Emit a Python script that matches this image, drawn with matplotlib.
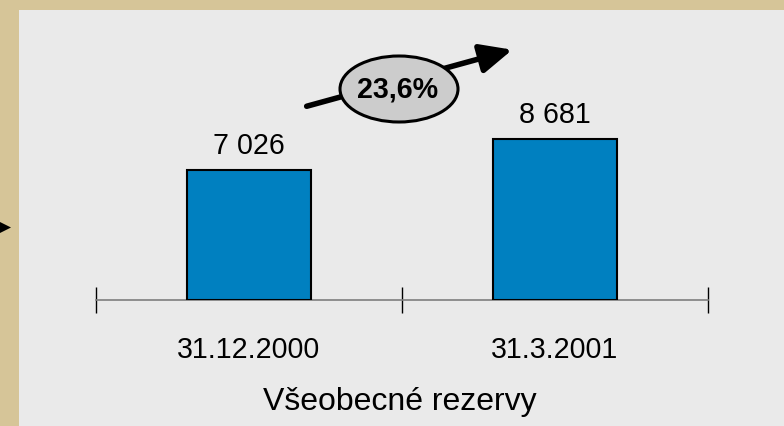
import matplotlib
matplotlib.use("Agg")
import matplotlib.pyplot as plt
from matplotlib.patches import Rectangle, Ellipse, FancyArrowPatch, Polygon

plt.rcParams['font.family'] = ['Liberation Sans', 'DejaVu Sans']

dates = ["31.12.2000", "31.3.2001"]
values = [7026, 8681]
title = "Všeobecné rezervy"

W, H = 784, 426
tan = "#D6C598"
panel = "#EAEAEA"
blue = "#0080C0"
fs = 20.6

def fx(px):
    return px / W

def fy(py):
    return 1 - py / H

fig = plt.figure(figsize=(W / 100, H / 100), dpi=100, facecolor=tan)

# light panel
fig.patches.append(Rectangle((fx(19), 0), 1 - fx(19), fy(10), transform=fig.transFigure,
                             facecolor=panel, edgecolor="none", zorder=-2))
# small arrow head coming from the left edge
fig.patches.append(Polygon([(fx(0), fy(222)), (fx(0), fy(233)), (fx(11), fy(227.5))],
                           closed=True, transform=fig.transFigure, facecolor="black",
                           edgecolor="none", zorder=-1))

ax = fig.add_axes([fx(96), fy(300), fx(708) - fx(96), fy(10) - fy(300)])
ax.set_facecolor("none")
ax.set_xlim(0, 2)
ax.set_ylim(0, 7026 * 290 / 130)

xs = [0.5, 1.5]
ax.bar(xs, values, width=0.405, color=blue, edgecolor="black", linewidth=1.5, zorder=3)

for s in ["top", "left", "right"]:
    ax.spines[s].set_visible(False)
ax.spines["bottom"].set_color("#7f7f7f")
ax.spines["bottom"].set_linewidth(1.2)
ax.set_yticks([])
ax.set_xticks([0, 1, 2])
ax.set_xticklabels([])
ax.tick_params(axis="x", direction="inout", length=19, width=1, color="black")

# offsets in points (1 px = 0.72 pt at 100 dpi)
for x, v, d in zip(xs, values, dates):
    ax.annotate(f"{v:,}".replace(",", " "), (x, v), xytext=(0, 16 * 0.72), textcoords="offset points",
                ha="center", va="baseline", fontsize=fs)
    ax.annotate(d, (x, 0), xytext=(0, -58 * 0.72), textcoords="offset points",
                ha="center", va="baseline", fontsize=fs, annotation_clip=False)
ax.annotate(title, (1, 0), xytext=(-2 * 0.72, -110 * 0.72), textcoords="offset points",
            ha="center", va="baseline", fontsize=23, annotation_clip=False)

# growth arrow with ellipse
growth = (values[1] / values[0] - 1) * 100
arr = FancyArrowPatch((fx(304), fy(107)), (fx(515), fy(49)), transform=fig.transFigure,
                      arrowstyle="-|>,head_length=12,head_width=5.5", mutation_scale=1.6,
                      linewidth=4, color="black", zorder=4)
fig.patches.append(arr)
fig.patches.append(Ellipse((fx(399), fy(89)), fx(118), 66 / H, transform=fig.transFigure,
                           facecolor="#CCCCCC", edgecolor="black", linewidth=2.2, zorder=5))
fig.text(fx(398), fy(98), f"{growth:.1f}%".replace(".", ","), ha="center", va="baseline",
         fontsize=fs, fontweight="bold", zorder=6)

fig.savefig("out.png", dpi=100, facecolor=tan)
